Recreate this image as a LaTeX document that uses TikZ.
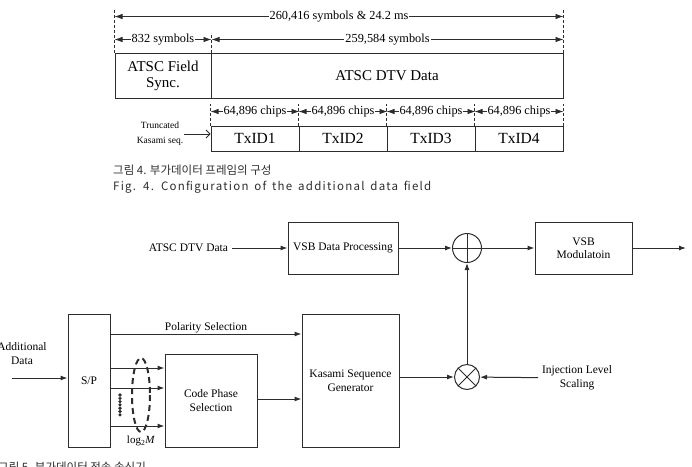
\documentclass[tikz,border=0pt]{standalone}
\usepackage{fontspec}
\setmainfont{Liberation Serif}
\newfontfamily\kofont{Noto Sans CJK KR}
\newfontfamily\kofigfont[LetterSpace=11,WordSpace=1.5]{Noto Sans CJK KR}
\usetikzlibrary{arrows.meta,positioning,calc}
\definecolor{ink}{RGB}{45,45,45}
\tikzset{
  cell/.style={draw=ink,line width=1pt,minimum height=45pt,inner sep=1pt,align=center,font=\fontsize{15}{16}\selectfont},
  txcell/.style={cell,minimum width=88pt,minimum height=25pt,font=\fontsize{15.5}{16}\selectfont},
  blk/.style={draw=ink,line width=1pt,align=center,inner sep=1pt,font=\fontsize{11.5}{13.5}\selectfont},
  lbl/.style={align=center,inner sep=1pt,outer sep=3pt,font=\fontsize{11.5}{14}\selectfont},
  dimtxt/.style={fill=white,inner sep=1pt,font=\fontsize{12.3}{14}\selectfont},
  dim/.style={draw=ink,line width=0.8pt,{Latex[length=8pt,width=5.5pt]}-{Latex[length=8pt,width=5.5pt]}},
  ext/.style={draw=ink,line width=1pt,dash pattern=on 3pt off 2pt},
  sig/.style={draw=ink,line width=1pt,-{Latex[length=7pt,width=5pt]}},
  junc/.style={circle,draw=ink,line width=1pt,inner sep=0pt},
  captxt/.style={anchor=west,inner sep=0pt,text=ink,font=\kofont\fontsize{11.5}{13}\selectfont},
}

\begin{document}
\begin{tikzpicture}[x=1pt,y=-1pt]
  \useasboundingbox (0,0) rectangle (692,466);
  % frame of the additional data field
  \node[cell,minimum width=96pt] (fs) at (163,75.5) {ATSC Field\\Sync.};
  \node[cell,minimum width=352pt] (dtv) at (387,75.5) {ATSC DTV Data};
  \draw[ext] (fs.north west) -- ++(0,-43);
  \draw[ext] (fs.north east) -- ++(0,-20);
  \draw[ext] (dtv.north east) -- ++(0,-43);
  \coordinate (t0) at ($(fs.north west)+(0,-36)$);
  \coordinate (t1) at ($(dtv.north east)+(0,-36)$);
  \draw[dim] (t0) -- node[dimtxt]{260,416 symbols \& 24.2 ms} (t1);
  \coordinate (s0) at ($(fs.north west)+(0,-13)$);
  \coordinate (s1) at ($(fs.north east)+(0,-13)$);
  \coordinate (s2) at ($(dtv.north east)+(0,-13)$);
  \draw[dim] (s0) -- node[dimtxt]{832 symbols} (s1);
  \draw[dim] (s1) -- node[dimtxt]{259,584 symbols} (s2);
  \foreach \i in {1,...,4} {
    \node[txcell] (tx\i) at ({167+88*\i},138.5) {TxID\i};
    \draw[ext] (tx\i.north west) -- ++(0,-22);
    \draw[dim] ($(tx\i.north west)+(0,-14)$) -- node[dimtxt]{64,896 chips} ($(tx\i.north east)+(0,-14)$);
  }
  \draw[ext] (tx4.north east) -- ++(0,-22);
  \node[font=\fontsize{9.5}{15}\selectfont,align=center,inner sep=1pt] (trunc) at (160,134) {Truncated\\Kasami seq.};
  \draw[ink,line width=0.8pt,-{Straight Barb[length=4pt]}] (trunc.east) -- (trunc.east -| tx1.west);
  \node[captxt] (cap4) at (113,170) {그림 4. 부가데이터 프레임의 구성};
  \node[captxt,font=\kofigfont\fontsize{11.5}{13}\selectfont] (fig4) at (113,187) {Fig. 4. Configuration of the additional data field};

  % transmitter
  \node[lbl,anchor=east] (dtvin) at (232,248) {ATSC DTV Data};
  \node[blk,minimum width=110pt,minimum height=52pt] (vsbdp) at (343,248) {VSB Data Processing};
  \node[junc,minimum size=29pt] (add) at (467,248) {};
  \draw[ink,line width=1pt] (add.north) -- (add.south) (add.west) -- (add.east);
  \node[blk,minimum width=97pt,minimum height=52pt] (mod) at (583.5,248) {VSB\\Modulatoin};
  \coordinate (out) at (686,248);
  \draw[sig] (dtvin) -- (vsbdp);
  \draw[sig] (vsbdp) -- (add);
  \draw[sig] (add) -- (mod);
  \draw[sig] (mod) -- (out);

  \node[blk,minimum width=97pt,minimum height=133pt] (kas) at (350.5,380.5) {Kasami Sequence\\Generator};
  \node[junc,minimum size=25pt] (mul) at (467,377) {};
  \draw[ink,line width=1pt] (mul.north east) -- (mul.south west) (mul.north west) -- (mul.south east);
  \draw[sig] (mul) -- (add);
  \draw[sig] (mul -| kas.east) -- (mul);
  \node[lbl] (inj) at (577,378) {Injection Level\\Scaling};
  \draw[sig] (inj) -- (mul);

  \node[blk,minimum width=42pt,minimum height=133pt] (sp) at (89,380.5) {S/P};
  \node[lbl] (addin) at (22,354) {Additional\\Data};
  \coordinate (spin) at (12,378);
  \draw[sig] (spin) -- (spin -| sp.west);
  \node[blk,minimum width=92pt,minimum height=93pt] (cps) at (211,400.5) {Code Phase\\Selection};
  \coordinate (pol) at (200,334);
  \draw[sig] (pol -| sp.east) -- node[lbl,above,outer sep=0pt]{Polarity Selection} (pol -| kas.west);
  \foreach \yy in {368,388,426} {
    \coordinate (bit) at (0,\yy);
    \draw[sig] (bit -| sp.east) -- (bit -| cps.west);
  }
  \coordinate (cpsout) at (0,399);
  \draw[sig] (cpsout -| cps.east) -- (cpsout -| kas.west);
  \foreach \k in {0,...,6}
    \fill[ink] (120,{395+\k*3.3}) circle (1.8pt);
  \draw[ink,line width=2pt,dash pattern=on 6pt off 4pt] (141,395) ellipse (9 and 37);
  \node[font=\fontsize{11}{13}\selectfont,inner sep=1pt] (logm) at (141,441) {log\textsubscript{2}\textit{M}};
  \node[captxt] (cap5) at (-2,467) {그림 5. 부가데이터 전송 송신기};
\end{tikzpicture}
\end{document}
